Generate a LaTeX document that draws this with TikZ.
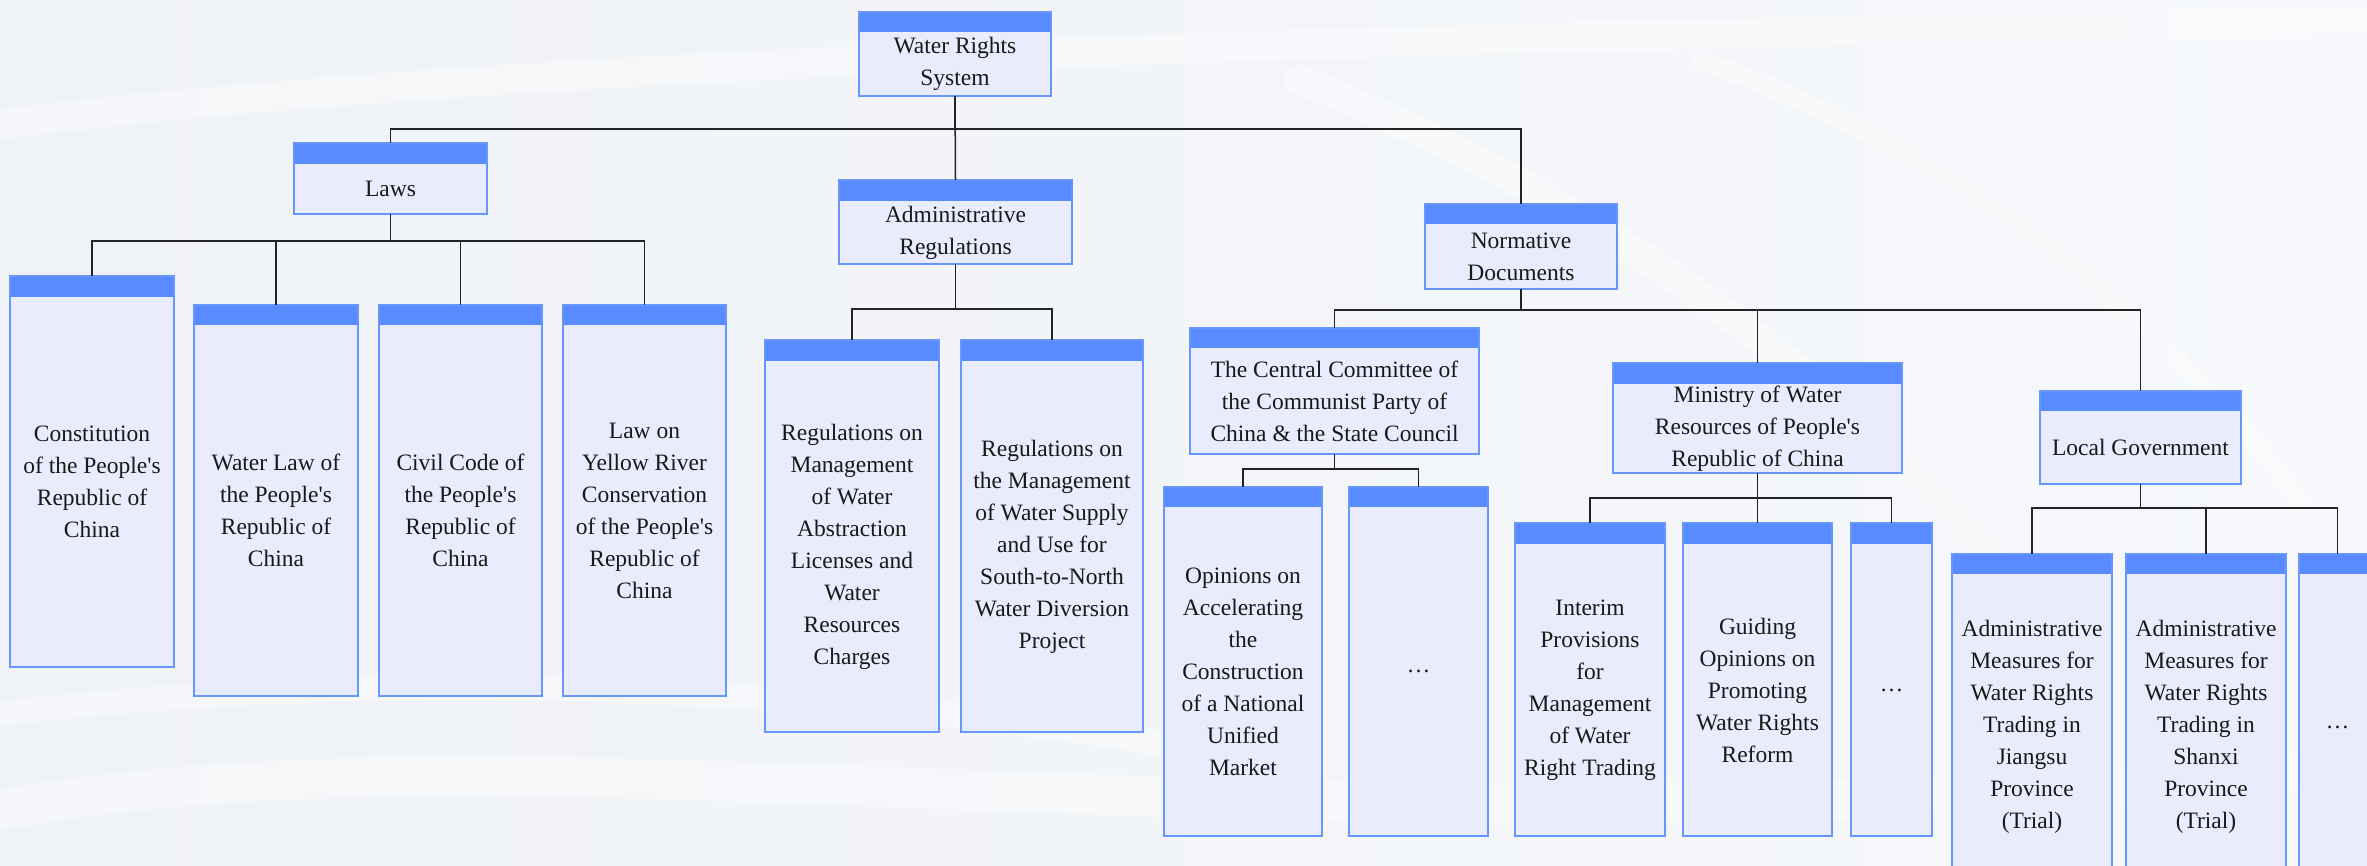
\documentclass[tikz,border=0pt]{standalone}
\usepackage{fontspec}
\setmainfont{Liberation Serif}[Ligatures=TeXOff]
\definecolor{headblue}{RGB}{88,139,255}
\definecolor{bodyfill}{RGB}{233,236,253}
\definecolor{bordcol}{RGB}{104,150,255}
\definecolor{linecol}{RGB}{35,35,35}
\definecolor{txtcol}{RGB}{25,25,25}
\definecolor{bgA}{RGB}{239,242,246}
\definecolor{bgB}{RGB}{246,248,251}
\tikzset{
 boxbody/.style={fill=bodyfill, draw=none, inner sep=0pt, outer sep=0pt},
 boxedge/.style={draw=bordcol, line width=1.5pt},
 boxtext/.style={align=center, font=\fontsize{23.5}{32}\selectfont, text=txtcol, inner sep=0pt},
 conn/.style={draw=linecol, line width=1.5pt},
 wave/.style={draw=white, opacity=0.35, line cap=round},
}
% name, x1, y1, x2, y2, header bottom, text
\newcommand{\obox}[7]{%
  \pgfmathsetmacro{\bw}{#4-#2}%
  \pgfmathsetmacro{\bh}{#5-#3}%
  \node[boxbody, minimum width=\bw pt, minimum height=\bh pt, anchor=north west] (#1) at (#2,#3) {};
  \fill[headblue] (#1.north west) rectangle (#4,#6);
  \draw[boxedge] (#1.north west) rectangle (#1.south east);
  \node[boxtext] (#1-t) at ({(#2+#4)/2},{(#6+#5)/2}) {#7};
}
\begin{document}
\begin{tikzpicture}[x=1pt,y=-1pt]
\useasboundingbox (0,0) rectangle (2367,865);
\clip (0,0) rectangle (2367,865);
\shade[left color=bgA, right color=bgB] (0,0) rectangle (2367,865);
% soft background waves
\draw[wave, line width=40pt] (-50,820) .. controls (500,700) and (1300,880) .. (2400,760);
\draw[wave, line width=30pt] (-50,130) .. controls (500,60) and (1300,40) .. (2400,20);
\draw[wave, line width=30pt] (1300,80) .. controls (1600,200) and (1900,400) .. (2100,700);
\draw[wave, line width=25pt] (-50,720) .. controls (400,660) and (900,690) .. (1250,760);
\draw[wave, line width=20pt] (1700,60) .. controls (1950,150) and (2150,300) .. (2300,500);

% level 0
\obox{wrs}{859}{12}{1051}{96}{32}{Water Rights\\System}
% level 1
\obox{laws}{294}{143}{487}{214}{164}{Laws}
\obox{adm}{839}{180}{1072}{264}{201}{Administrative\\Regulations}
\obox{norm}{1425}{204}{1617}{289}{224}{Normative\\Documents}
% laws children
\obox{const}{10}{276}{174}{667}{297}{Constitution\\of the People's\\Republic of\\China}
\obox{wlaw}{194}{305}{358}{696}{325}{Water Law of\\the People's\\Republic of\\China}
\obox{civil}{379}{305}{542}{696}{325}{Civil Code of\\the People's\\Republic of\\China}
\obox{yellow}{563}{305}{726}{696}{325}{Law on\\Yellow River\\Conservation\\of the People's\\Republic of\\China}
% admin regulations children
\obox{regA}{765}{340}{939}{732}{361}{Regulations on\\Management\\of Water\\Abstraction\\Licenses and\\Water\\Resources\\Charges}
\obox{regB}{961}{340}{1143}{732}{361}{Regulations on\\the Management\\of Water Supply\\and Use for\\South-to-North\\Water Diversion\\Project}
% normative children
\obox{cc}{1190}{328}{1479}{454}{348}{The Central Committee of\\the Communist Party of\\China \& the State Council}
\obox{min}{1613}{363}{1902}{473}{384}{Ministry of Water\\Resources of People's\\Republic of China}
\obox{lg}{2040}{391}{2241}{484}{411}{Local Government}
% cc children
\obox{opin}{1164}{487}{1322}{836}{507}{Opinions on\\Accelerating\\the\\Construction\\of a National\\Unified\\Market}
\obox{ccdots}{1349}{487}{1488}{836}{507}{…}
% ministry children
\obox{interim}{1515}{523}{1665}{836}{544}{Interim\\Provisions\\for\\Management\\of Water\\Right Trading}
\obox{guiding}{1683}{523}{1832}{836}{544}{Guiding\\Opinions on\\Promoting\\Water Rights\\Reform}
\obox{mindots}{1851}{523}{1932}{836}{544}{…}
% local government children
\obox{jiangsu}{1952}{554}{2112}{880}{574}{Administrative\\Measures for\\Water Rights\\Trading in\\Jiangsu\\Province\\(Trial)}
\obox{shanxi}{2126}{554}{2286}{880}{574}{Administrative\\Measures for\\Water Rights\\Trading in\\Shanxi\\Province\\(Trial)}
\obox{lgdots}{2299}{554}{2376}{880}{574}{…}

% connectors
\draw[conn] (wrs.south) -- (wrs.south |- 0,129) -| (laws.north);
\draw[conn] (wrs.south |- 0,129) -| (norm.north);
\draw[conn] (wrs.south) -- (adm.north);

\foreach \c in {const,wlaw,civil,yellow}
  \draw[conn] (laws.south) -- (laws.south |- 0,241) -| (\c.north);
\foreach \c in {regA,regB}
  \draw[conn] (adm.south) -- (adm.south |- 0,309) -| (\c.north);
\foreach \c in {cc,min,lg}
  \draw[conn] (norm.south) -- (norm.south |- 0,310) -| (\c.north);
\foreach \c in {opin,ccdots}
  \draw[conn] (cc.south) -- (cc.south |- 0,469) -| (\c.north);
\foreach \c in {interim,guiding,mindots}
  \draw[conn] (min.south) -- (min.south |- 0,498) -| (\c.north);
\foreach \c in {jiangsu,shanxi,lgdots}
  \draw[conn] (lg.south) -- (lg.south |- 0,508) -| (\c.north);
\end{tikzpicture}
\end{document}
